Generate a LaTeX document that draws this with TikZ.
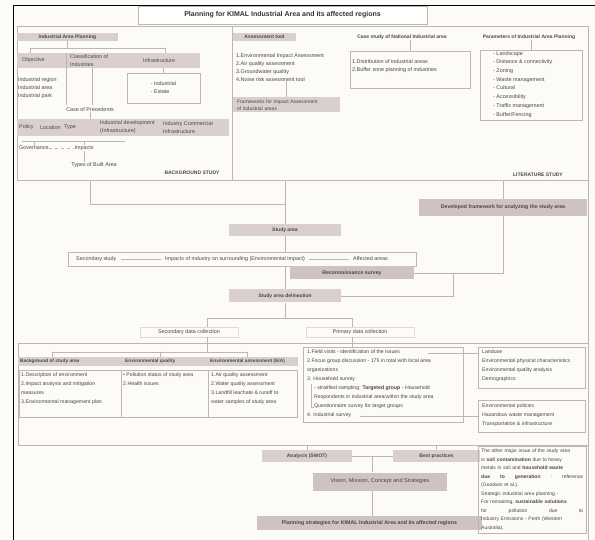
\documentclass[tikz,border=0pt]{standalone}
\usepackage{fontspec}
\setmainfont{Liberation Sans}
\usetikzlibrary{positioning}
\definecolor{bgc}{HTML}{FCFBF8}
\definecolor{boxc}{HTML}{D9D0CE}
\definecolor{darkbox}{HTML}{CFC3C1}
\definecolor{linec}{HTML}{BDB6B2}
\definecolor{txtc}{HTML}{4A4646}
\begin{document}
\begin{tikzpicture}[x=1pt,y=-1pt,
    every node/.style={text=txtc,font=\fontsize{5.4}{8}\selectfont,inner sep=0pt},
    hdr/.style={fill=boxc,font=\fontsize{5}{6}\selectfont\bfseries},
    bighdr/.style={fill=darkbox,font=\fontsize{5.2}{6}\selectfont\bfseries},
    lbl/.style={anchor=west},
    boldlbl/.style={font=\fontsize{5}{6}\selectfont\bfseries},
    pline/.style={draw=linec,line width=0.45pt},
    frame/.style={draw=linec,line width=0.45pt}]
    % Page
    \fill[bgc] (0,0) rectangle (595,540);
    \useasboundingbox (0,0) rectangle (595,540);
    \draw[line width=1.6pt] (13.5,540) -- (13.5,5.5) -- (595,5.5);
    \draw[pline] (588,180) -- (588,540);

    % Title
    \node[frame,fill=white,minimum width=289,minimum height=18,
        font=\fontsize{7}{8}\selectfont\bfseries,text=black!80] (title) at (282.5,15)
        {Planning for KIMAL Industrial Area and its affected regions};

    % Study panels
    \draw[pline] (17,26) rectangle (232,180);
    \draw[pline] (232,26) rectangle (588,180);

    % Background study
    \node[hdr,minimum width=101,minimum height=8] (iap) at (67.5,37) {Industrial Area Planning};
    \draw[pline] (iap.south) -- (67.5,48);
    \draw[pline] (30,48) -- (165,48);
    \draw[pline] (30,48) -- (30,53);
    \draw[pline] (165,48) -- (165,53);
    \node[hdr,minimum width=183,minimum height=15] (row1) at (108.5,60.5) {};
    \node[lbl] (obj) at (22,60.5) {Objective};
    \node[lbl,align=left] (cls) at (70,60.5) {Classification of\\Industries};
    \node[lbl] (infra) at (143,60.5) {Infrastructure};
    \draw[pline] (66,53) -- (66,105);
    \draw[pline] (92,68) -- (92,105);
    \node[lbl,align=left,anchor=north west] (types) at (18,77) {Industrial region\\Industrial area\\Industrial park};
    \node[frame,minimum width=73,minimum height=30,align=left] (infbox) at (163.5,88) {- Industrial\\- Estate};
    \draw[pline] (infbox.north |- row1.south) -- (infbox.north);
    \node (cop) at (90,110) {Case of Precedents};
    \node[hdr,minimum width=212,minimum height=17] (row2) at (123,127.5) {};
    \draw[pline] (cop.south) -- (cop.south |- row2.north);
    \node[lbl] (pol) at (19,127.5) {Policy};
    \node[lbl] (loc) at (40,127.5) {Location};
    \node[lbl] (typ) at (64,127.5) {Type};
    \node[lbl,align=left] (idev) at (100,127.5) {Industrial development\\(Infrastructure)};
    \node[lbl,align=left] (icom) at (163,127.5) {Industry Commercial\\Infrastructure};
    \draw[pline] (22,141) -- (125,141);
    \node[lbl] (gov) at (19,148) {Governance};
    \node (imp) at (84,148) {Impacts};
    \node (tba) at (94,165) {Types of Built Area};
    \draw[pline] (gov.north) -- (gov.north |- 0,141);
    \draw[pline] (imp.north) -- (imp.north |- 0,141);
    \draw[pline,dashed] (gov.east) -- (imp.west);
    \draw[pline] (imp.south) -- (imp.south |- tba.north);
    \node[boldlbl] (bgs) at (192,173) {BACKGROUND STUDY};

    % Literature study
    \node[hdr,minimum width=63,minimum height=8] (atool) at (264.5,37) {Assessment tool};
    \node[lbl,align=left,anchor=north west] (atlist) at (236,53)
        {1.Environmental Impact Assessment\\2.Air quality assessment\\3.Groundwater quality\\4.Noise risk assessment tool};
    \node[hdr,minimum width=107,minimum height=15,text width=99,inner xsep=4,align=left,
        font=\fontsize{5}{6.5}\selectfont] (fia) at (286.5,105) {Frameworks for Impact Assessment\\of industrial areas};
    \draw[pline] (atlist.south -| fia.north) -- (fia.north);
    \node[boldlbl] (csn) at (402,37) {Case study of National Industrial area};
    \node[frame,minimum width=120,minimum height=37] (csbox) at (410,69.5) {};
    \draw[pline] (csn.south -| csbox.north) -- (csbox.north);
    \node[lbl,align=left,anchor=north west] (cslist) at (352,59)
        {1.Distribution of industrial areas\\2.Buffer zone planning of industries};
    \node[boldlbl] (piap) at (529,37) {Parameters of Industrial Area Planning};
    \node[frame,minimum width=102,minimum height=70] (pbox) at (531,85) {};
    \draw[pline] (pbox.north |- piap.south) -- (pbox.north);
    \node[lbl,align=left,anchor=north west,font=\fontsize{5.4}{8.7}\selectfont] (plist) at (493,51)
        {- Landscape\\- Distance \& connectivity\\- Zoning\\- Waste management\\- Cultural\\- Accessibility\\- Traffic management\\- Buffer/Fencing};
    \node[boldlbl] (lts) at (538,175) {LITERATURE STUDY};

    % Framework and study area
    \node[bighdr,minimum width=168,minimum height=17] (dev) at (503,207.5) {Developed framework for analyzing the study area};
    \draw[pline] (dev.north |- 0,180) -- (dev.north);
    \node[hdr,minimum width=112,minimum height=12] (sa) at (285,230) {Study area};
    \draw[pline] (90,180) -- (90,204) -- (285,204);
    \draw[pline] (285,180) -- (sa.north);
    \node[frame,minimum width=348,minimum height=14] (secbox) at (242,259) {};
    \draw[pline] (sa.south) -- (sa.south |- secbox.north);
    \node[lbl] (ss) at (76,259) {Secondary study};
    \node[lbl] (imps) at (165,259) {Impacts of industry on surrounding (Environmental impact)};
    \node[lbl] (aff) at (353,259) {Affected areas};
    \draw[pline] ([xshift=4]ss.east) -- ([xshift=-4]imps.west);
    \draw[pline] ([xshift=4]imps.east) -- ([xshift=-4]aff.west);
    \node[bighdr,minimum width=124,minimum height=13] (rs) at (352,273) {Reconnaissance survey};
    \draw[pline] (dev.south) -- (dev.south |- rs.east) -- (rs.east);
    \node[hdr,minimum width=112,minimum height=13] (sad) at (285,296) {Study area delineation};
    \draw[pline] (453,273) -- (453,296) -- (sad.east);
    \draw[pline] (secbox.south -| sad.north) -- (sad.north);

    % Data collection
    \draw[pline] (sad.south) -- (285,318);
    \draw[pline] (207,318) -- (352,318);
    \node[draw=linec!50,minimum width=98,minimum height=10] (sdc) at (189,332) {Secondary data collection};
    \node[draw=linec!50,minimum width=108,minimum height=10] (pdc) at (360,332) {Primary data collection};
    \draw[pline] (207,318) -- (207,327);
    \draw[pline] (352,318) -- (352,327);
    \draw[pline] (18,343) rectangle (588,445);

    % Secondary data
    \draw[pline] (207,337) -- (207,352);
    \draw[pline] (52,352) -- (247,352);
    \draw[pline] (52,352) -- (52,357);
    \draw[pline] (160,352) -- (160,357);
    \draw[pline] (247,352) -- (247,357);
    \node[hdr,minimum width=280,minimum height=9] (sband) at (158,361.5) {};
    \node[lbl,font=\fontsize{4.8}{6}\selectfont\bfseries] (bsa) at (20,361.5) {Background of study area};
    \node[lbl,font=\fontsize{4.8}{6}\selectfont\bfseries] (eqs) at (125,361.5) {Environmental quality};
    \node[lbl,font=\fontsize{4.8}{6}\selectfont\bfseries] (eas) at (210,361.5) {Environmental assessment (EIA)};
    \node[frame,minimum width=102,minimum height=47] (bsabox) at (70,393.5) {};
    \node[frame,minimum width=87,minimum height=47] (eqbox) at (164.5,393.5) {};
    \node[frame,minimum width=89,minimum height=47] (eabox) at (252.5,393.5) {};
    \node[lbl,align=left,anchor=north west,font=\fontsize{5.2}{8.8}\selectfont] (bsalist) at (21,373)
        {1.Description of environment\\2.Impact analysis and mitigation\\measures\\3.Environmental management plan};
    \node[lbl,align=left,anchor=north west,font=\fontsize{5.2}{8.8}\selectfont] (eqlist) at (123,373)
        {• Pollution status of study area\\2.Health issues};
    \node[lbl,align=left,anchor=north west,font=\fontsize{5.2}{8.8}\selectfont] (ealist) at (211,373)
        {1.Air quality assessment\\2.Water quality assessment\\3.Landfill leachate \& runoff to\\water samples of study area};

    % Primary data
    \node[frame,minimum width=160,minimum height=75] (plbox) at (383,384.5) {};
    \draw[pline] (352,337) -- (352,347);
    \node[lbl,align=left,anchor=north west,font=\fontsize{5.2}{9}\selectfont] (pllist) at (307,350)
        {1.Field visits - identification of the issues\\
         2.Focus group discussion - 175 in total with local area\\
         organizations\\
         3. Household survey\\
         \hspace*{7pt}- stratified sampling: \textbf{Targeted group} - Household\\
         \hspace*{7pt}Respondents in industrial area/within the study area\\
         \hspace*{7pt}Questionnaire survey for target groups\\
         4. Industrial survey};
    \draw[pline] (311,384) -- (311,407) -- (314,407);
    \node[frame,minimum width=107,minimum height=41] (rboxa) at (531.5,367.5) {};
    \node[lbl,align=left,anchor=north west,font=\fontsize{5.2}{9}\selectfont] (ralist) at (482,350)
        {Landuse\\Environmental physical characteristics\\Environmental quality analysis\\Demographics};
    \node[frame,minimum width=107,minimum height=32] (rboxb) at (531.5,416) {};
    \node[lbl,align=left,anchor=north west,font=\fontsize{5.2}{9}\selectfont] (rblist) at (482,404)
        {Environmental policies\\Hazardous waste management\\Transportation \& infrastructure};
    \coordinate (fv) at (428,353);
    \coordinate (isv) at (360,416);
    \draw[pline] (fv) -- (fv -| rboxa.west);
    \draw[pline] (isv) -- (isv -| rboxb.west);

    % Analysis and strategies
    \node[hdr,minimum width=90,minimum height=12] (swot) at (307,456) {Analysis (SWOT)};
    \node[hdr,minimum width=87,minimum height=12] (bp) at (436.5,456) {Best practices};
    \draw[pline] (swot.east) -- (bp.west);
    \draw[pline] (swot.north |- 0,445) -- (swot.north);
    \draw[pline] (bp.north |- 0,445) -- (bp.north);
    \node[bighdr,minimum width=134,minimum height=18,font=\fontsize{5.6}{7}\selectfont] (vm) at (380,481.5)
        {Vision, Mission, Concept and Strategies};
    \draw[pline] (372,456) -- (vm.north -| 372,0);
    \node[bighdr,minimum width=225,minimum height=14,font=\fontsize{5.3}{6}\selectfont\bfseries] (psk) at (369.5,523)
        {Planning strategies for KIMAL Industrial Area and its affected regions};
    \draw[pline] (vm.south -| 372,0) -- (psk.north -| 372,0);

    % Note
    \node[frame,anchor=north west,text width=102,align=left,inner sep=3,
        font=\fontsize{5}{8.5}\selectfont] (note) at (478,446)
        {The other major issue of the study area\\
         is \textbf{soil contamination} due to heavy\\
         metals in soil and \textbf{household waste}\\
         \textbf{due\hfill to\hfill generation}\hfill :\hfill reference\\
         (Goodwin et al.).\\
         Strategic industrial area planning -\\
         For remaining, \textbf{sustainable solutions}\\
         for\hfill pollution\hfill due\hfill to\\
         Industry Emissions - Perth (Western\\
         Australia).};
\end{tikzpicture}
\end{document}
